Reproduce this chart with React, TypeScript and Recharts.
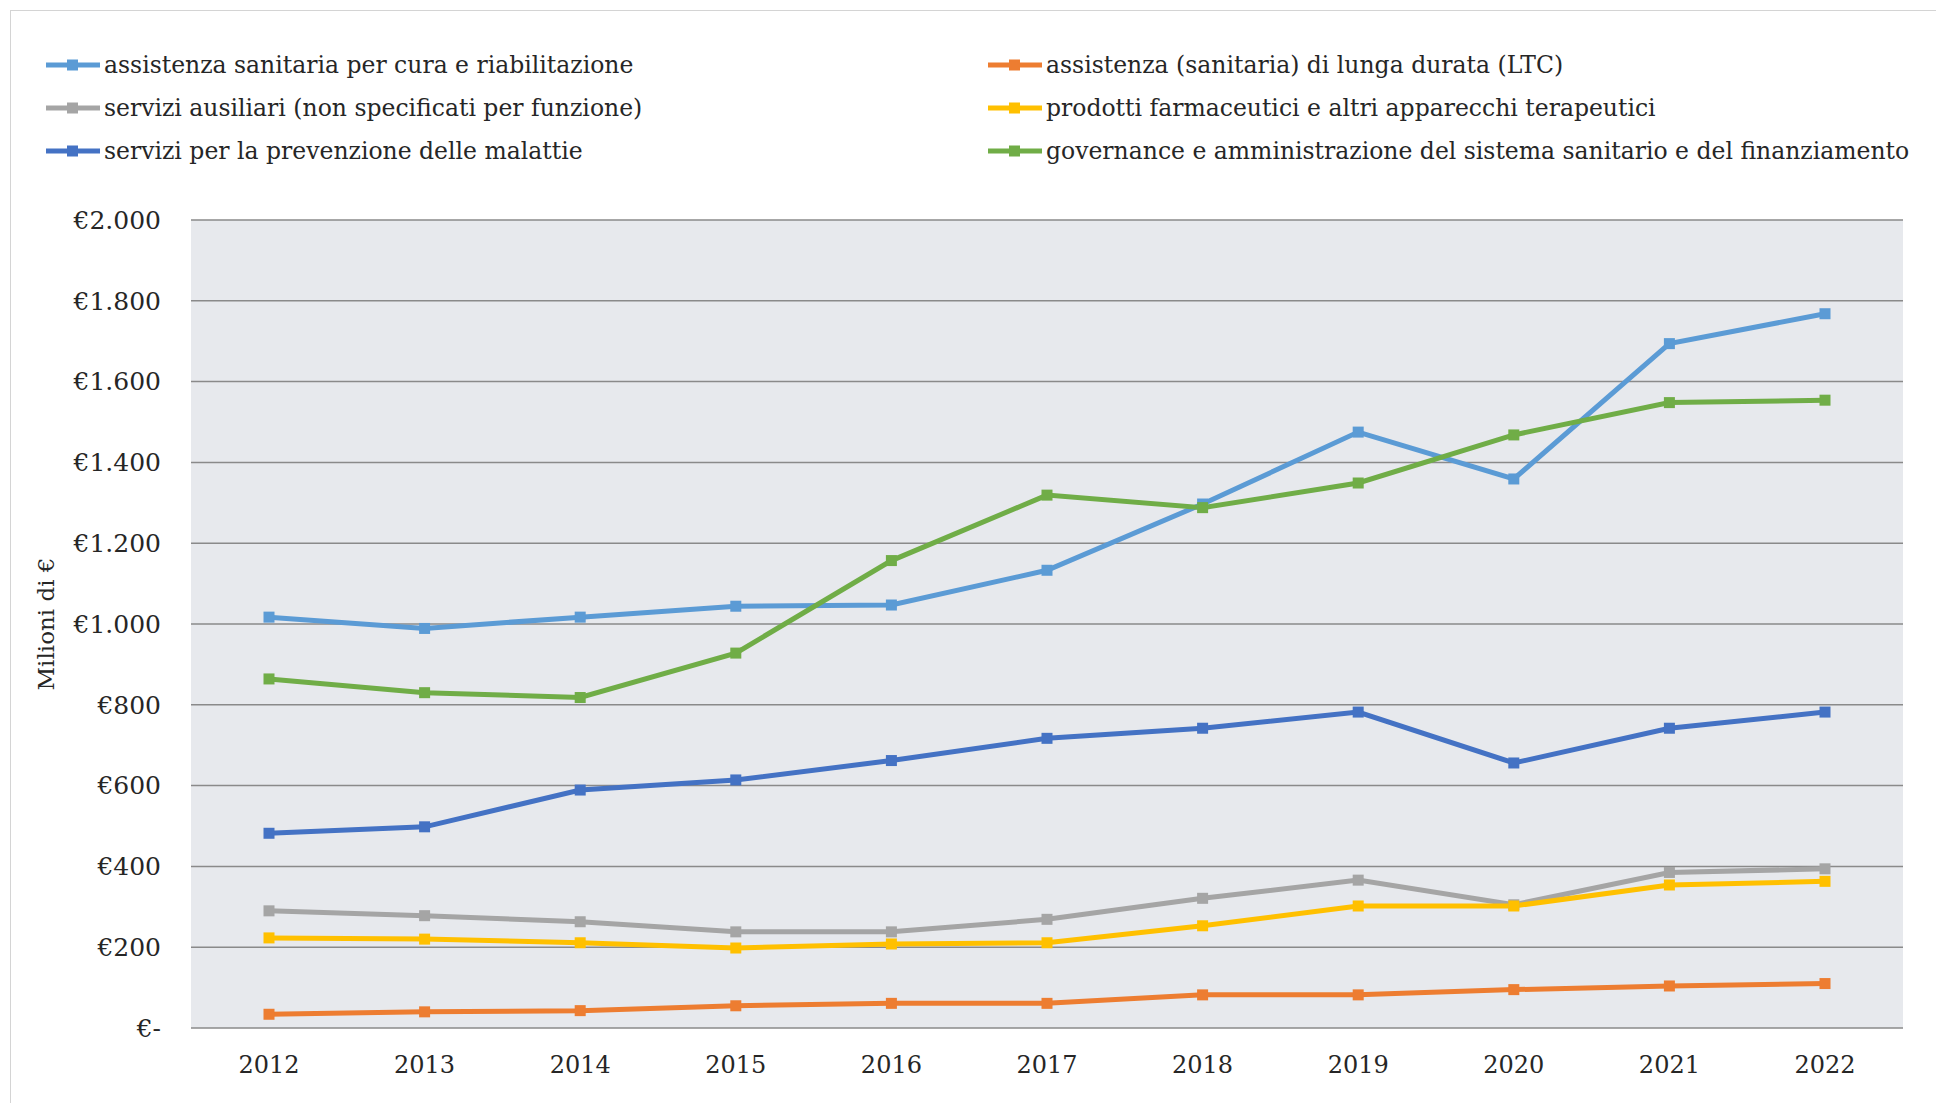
import { LineChart, Line, XAxis, YAxis, CartesianGrid, Legend } from 'recharts';

const years = ['2012', '2013', '2014', '2015', '2016', '2017', '2018', '2019', '2020', '2021', '2022'];

const curaRiabilitazione = [1017, 989, 1017, 1044, 1047, 1133, 1297, 1475, 1359, 1694, 1768];
const lungaDurata = [34, 40, 43, 55, 61, 61, 82, 82, 95, 104, 110];
const serviziAusiliari = [290, 278, 263, 238, 238, 269, 321, 366, 305, 385, 394];
const farmaceutici = [223, 220, 211, 198, 208, 211, 253, 302, 302, 354, 363];
const prevenzione = [482, 498, 589, 614, 662, 717, 742, 782, 656, 742, 782];
const governance = [864, 830, 818, 928, 1157, 1319, 1288, 1349, 1468, 1548, 1554];

const yTicks = [0, 200, 400, 600, 800, 1000, 1200, 1400, 1600, 1800, 2000];

const series = [
  { key: 'cura', name: 'assistenza sanitaria per cura e riabilitazione', color: '#5b9bd5', values: curaRiabilitazione },
  { key: 'ltc', name: 'assistenza (sanitaria) di lunga durata (LTC)', color: '#ed7d31', values: lungaDurata },
  { key: 'ausiliari', name: 'servizi ausiliari (non specificati per funzione)', color: '#a5a5a5', values: serviziAusiliari },
  { key: 'farmaci', name: 'prodotti farmaceutici e altri apparecchi terapeutici', color: '#ffc000', values: farmaceutici },
  { key: 'prevenzione', name: 'servizi per la prevenzione delle malattie', color: '#4472c4', values: prevenzione },
  { key: 'governance', name: 'governance e amministrazione del sistema sanitario e del finanziamento', color: '#70ad47', values: governance },
];

const data = years.map((year, i) => {
  const row: Record<string, string | number> = { year };
  series.forEach((s) => {
    row[s.key] = s.values[i];
  });
  return row;
});

const FONT = '"DejaVu Serif", serif';

const formatEuro = (v: number) => {
  if (v === 0) return '€-';
  return '€' + String(v).replace(/\B(?=(\d{3})+(?!\d))/g, '.');
};

const squareDot = (color: string) => (props: any) => {
  const { cx, cy, index } = props;
  if (cx == null || cy == null) return <g key={index} />;
  return <rect key={index} x={cx - 5.5} y={cy - 5.5} width={11} height={11} fill={color} />;
};

// legend keeps the series order (two columns, row by row)
function LegendContent() {
  return (
    <div
      style={{
        display: 'grid',
        gridTemplateColumns: '942px 940px',
        rowGap: 9,
        fontFamily: FONT,
        fontSize: 23.5,
        color: '#262626',
      }}
    >
      {series.map((s) => (
        <div key={s.key} style={{ display: 'flex', alignItems: 'center', height: 34, whiteSpace: 'nowrap' }}>
          <svg width={54} height={14} style={{ marginRight: 4, flexShrink: 0 }}>
            <line x1={0} y1={7} x2={54} y2={7} stroke={s.color} strokeWidth={5} />
            <rect x={21} y={1.5} width={11} height={11} fill={s.color} />
          </svg>
          <span>{s.name}</span>
        </div>
      ))}
    </div>
  );
}

export default function App() {
  return (
    <div style={{ position: 'absolute', left: 0, top: 0, width: 1936, height: 1103, background: '#fff', overflow: 'hidden' }}>
      <div style={{ position: 'absolute', left: 10, top: 10, width: 1940, height: 1110, border: '1px solid #d4d4d4' }} />
      <LineChart
        width={1936}
        height={1103}
        data={data}
        margin={{ top: 220, right: 33, bottom: 15, left: 31 }}
      >
        <CartesianGrid vertical={false} fill="#e7e9ed" stroke="#8a8a8a" strokeWidth={1.5} />
        <XAxis
          dataKey="year"
          axisLine={false}
          tickLine={false}
          tickSize={0}
          tickMargin={28}
          padding={{ left: 78, right: 78 }}
          height={60}
          tick={{ fill: '#262626', fontSize: 24, fontFamily: FONT }}
        />
        <YAxis
          width={160}
          domain={[0, 2000]}
          ticks={yTicks}
          axisLine={false}
          tickLine={false}
          tickSize={0}
          tickMargin={30}
          tickFormatter={formatEuro}
          tick={{ fill: '#262626', fontSize: 25, fontFamily: FONT }}
        />
        <Legend
          layout="horizontal"
          verticalAlign="middle"
          align="center"
          content={<LegendContent />}
          wrapperStyle={{ position: 'absolute', left: 46, top: 48, width: 1890, height: 140 }}
        />
        {series.map((s) => (
          <Line
            key={s.key}
            dataKey={s.key}
            name={s.name}
            type="linear"
            stroke={s.color}
            strokeWidth={5}
            dot={squareDot(s.color)}
            activeDot={false}
            isAnimationActive={false}
          />
        ))}
      </LineChart>
      <div
        style={{
          position: 'absolute',
          left: 46,
          top: 624,
          transform: 'translate(-50%, -50%) rotate(-90deg)',
          fontFamily: FONT,
          fontSize: 23,
          color: '#262626',
          whiteSpace: 'nowrap',
        }}
      >
        Milioni di €
      </div>
    </div>
  );
}
